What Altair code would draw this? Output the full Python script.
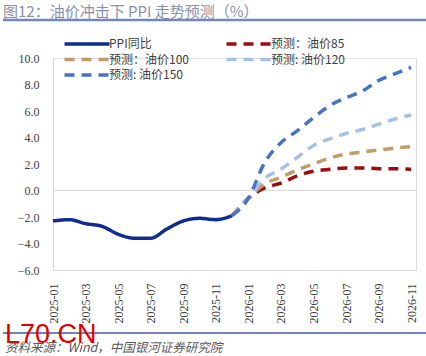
import altair as alt
import pandas as pd

months = ["2025-01", "2025-02", "2025-03", "2025-04", "2025-05", "2025-06",
          "2025-07", "2025-08", "2025-09", "2025-10", "2025-11", "2025-12",
          "2026-01", "2026-02", "2026-03", "2026-04", "2026-05", "2026-06",
          "2026-07", "2026-08", "2026-09", "2026-10", "2026-11"]

ppi = [-2.3, -2.2, -2.5, -2.7, -3.3, -3.6, -3.6, -2.9, -2.3, -2.1, -2.2, -1.9]
# forecasts start at 2025-12
f85 = [-1.9, -0.6, 0.2, 0.55, 1.1, 1.45, 1.6, 1.7, 1.7, 1.65, 1.65, 1.6]
f100 = [-1.9, -0.6, 0.5, 1.0, 1.55, 2.0, 2.45, 2.75, 2.9, 3.05, 3.2, 3.3]
f120 = [-1.9, -0.6, 0.9, 1.6, 2.5, 3.4, 3.9, 4.3, 4.6, 5.0, 5.4, 5.7]
f150 = [-1.9, -0.6, 2.1, 3.6, 4.5, 5.5, 6.4, 7.0, 7.5, 8.3, 8.8, 9.3]

series_names = ["PPI同比", "预测：油价85", "预测：油价100", "预测: 油价120", "预测: 油价150"]
series_colors = ["#0D2E8E", "#9E0B10", "#C09C6A", "#A8BFE7", "#4673C6"]
series_dash = [[1, 0], [10, 7], [10, 7], [10, 7], [10, 7]]
legend_order = ["PPI同比", "预测：油价100", "预测: 油价150", "预测：油价85", "预测: 油价120"]

rows = []
for i, v in enumerate(ppi):
    rows.append({"idx": i, "month": months[i], "value": v, "series": series_names[0], "order": 0})
start = 11
for k, vals in enumerate([f85, f100, f120, f150], start=1):
    for j, v in enumerate(vals):
        rows.append({"idx": start + j, "month": months[start + j], "value": v,
                     "series": series_names[k], "order": k})
df = pd.DataFrame(rows)

label_expr = "[" + ",".join("'%s'" % m for m in months) + "][datum.value]"

W, H = 363, 212
xscale = alt.Scale(domain=[0, 22.3], nice=False, zero=False)
yscale = alt.Scale(domain=[-6, 10], nice=False)

yaxis = alt.Axis(values=list(range(-6, 11, 2)), format=".1f",
                 labelFont="Liberation Serif", labelFontSize=12, labelColor="#404040",
                 labelPadding=14, ticks=False, domain=True, domainColor="#D9D9D9",
                 domainWidth=1, grid=False, title=None, labelOverlap=False)

legend = alt.Legend(
    title=None, orient="none", legendX=27, legendY=-21, columns=2, values=legend_order,
    symbolType="M-4.5,0H4.5", symbolStrokeWidth=3.5, symbolSize=100,
    labelFont="Noto Sans CJK SC", labelFontSize=12, labelColor="#404040",
    rowPadding=1.5, columnPadding=30, labelOffset=15,
)

lines = alt.Chart(df).mark_line(strokeWidth=3.5, interpolate="monotone").encode(
    x=alt.X("idx:Q", scale=xscale,
            axis=alt.Axis(values=list(range(0, 23, 2)), labelExpr=label_expr,
                          labelAngle=270, labelFont="Liberation Serif", labelFontSize=12,
                          labelColor="#404040", labelPadding=13, ticks=False, domain=False,
                          grid=False, title=None, labelOverlap=False)),
    y=alt.Y("value:Q", scale=yscale, axis=yaxis),
    color=alt.Color("series:N", scale=alt.Scale(domain=series_names, range=series_colors),
                    legend=legend),
    strokeDash=alt.StrokeDash("series:N", scale=alt.Scale(domain=series_names, range=series_dash),
                              legend=legend),
    detail="series:N",
    order="order:Q",
)

zero = alt.Chart(pd.DataFrame({"y": [0]})).mark_rule(color="#D9D9D9", strokeWidth=1).encode(
    y=alt.Y("y:Q", scale=yscale, axis=yaxis)
)

title = alt.Chart(pd.DataFrame({"t": ["图12：油价冲击下 PPI 走势预测（%）"]})).mark_text(
    align="left", baseline="alphabetic", font="Noto Sans CJK SC", fontSize=15, color="#8A90AA"
).encode(text="t:N", x=alt.value(-50), y=alt.value(-41))

top_rule = alt.Chart(pd.DataFrame({"a": [0]})).mark_rule(color="#7487BD", strokeWidth=2.5).encode(
    x=alt.value(-50), x2=alt.value(373), y=alt.value(-38)
)
bottom_rule = alt.Chart(pd.DataFrame({"a": [0]})).mark_rule(color="#6F84B8", strokeWidth=2).encode(
    x=alt.value(-50), x2=alt.value(373), y=alt.value(275)
)

mark = alt.Chart(pd.DataFrame({"t": ["L70.CN"]})).mark_text(
    align="left", baseline="alphabetic", font="Liberation Sans", fontSize=27, color="#E00000"
).encode(text="t:N", x=alt.value(-48), y=alt.value(285))

source = alt.Chart(pd.DataFrame({"t": ["资料来源：Wind，中国银河证券研究院"]})).mark_text(
    align="left", baseline="alphabetic", font="Noto Sans CJK SC", fontSize=12.5,
    fontStyle="italic", color="#595959"
).encode(text="t:N", x=alt.value(-48), y=alt.value(294))

chart = alt.layer(zero, lines, title, top_rule, bottom_rule, mark, source).properties(
    width=W, height=H,
    padding={"left": 53, "top": 58, "right": 10, "bottom": 86},
    autosize=alt.AutoSizeParams(type="none"),
).configure_view(stroke=None).configure(background="white")

chart.save("out.html", embed_options={"renderer": "svg", "actions": False})
